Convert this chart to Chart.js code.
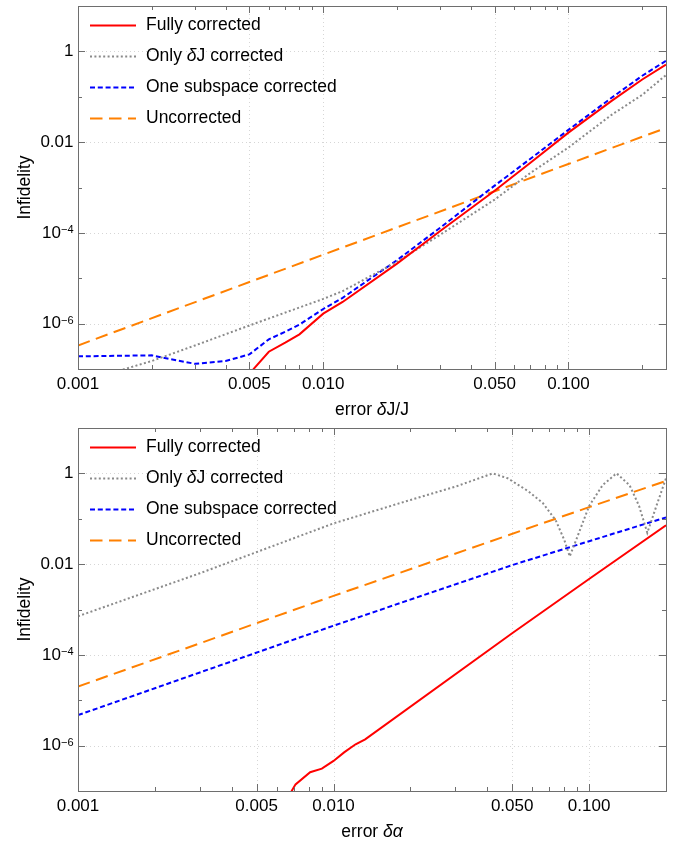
<!DOCTYPE html>
<html>
<head>
<meta charset="utf-8">
<script src="https://cdn.jsdelivr.net/npm/chart.js@4.4.1/dist/chart.umd.min.js"></script>
<style>
  html, body { margin: 0; padding: 0; background: #fff; }
  #wrap { position: relative; width: 684px; height: 846px; }
  canvas { position: absolute; left: 0; }
</style>
</head>
<body>
<div id="wrap">
  <canvas id="chart-j" width="684" height="422" style="top:0"></canvas>
  <canvas id="chart-a" width="684" height="424" style="top:422px"></canvas>
</div>
<script>
// Infidelidad vs error, dos paneles log-log (estilo Mathematica).

// --- panel superior: error δJ/J ---
const jFullX = [0.0048, 0.0052, 0.006, 0.007, 0.008, 0.01, 0.012, 0.02, 0.03, 0.05, 0.07, 0.1, 0.15, 0.2, 0.25];
const jFullY = [3e-8, 1e-7, 2.4e-7, 3.8e-7, 5.8e-7, 1.66e-6, 3.0e-6, 2.1e-5, 1.1e-4, 8.5e-4, 3.5e-3, 0.0162, 0.081, 0.24, 0.51];
const jOnlyX = [0.0013, 0.002, 0.003, 0.005, 0.01, 0.012, 0.02, 0.03, 0.05, 0.07, 0.1, 0.15, 0.2, 0.25];
const jOnlyY = [7.5e-8, 1.5e-7, 3.3e-7, 9.1e-7, 3.5e-6, 5.2e-6, 2.3e-5, 9.1e-5, 5.4e-4, 2.1e-3, 7.6e-3, 0.040, 0.11, 0.30];
const jSubX = [0.001, 0.002, 0.0022, 0.003, 0.004, 0.005, 0.006, 0.007, 0.008, 0.01, 0.012, 0.02, 0.03, 0.05, 0.07, 0.1, 0.15, 0.2, 0.25];
const jSubY = [1.9e-7, 2.0e-7, 1.8e-7, 1.3e-7, 1.5e-7, 2.1e-7, 4.5e-7, 6.6e-7, 9.5e-7, 2.1e-6, 3.7e-6, 2.5e-5, 1.3e-4, 1.1e-3, 4.3e-3, 0.0186, 0.095, 0.29, 0.62];
const jUncX = [0.001, 0.01, 0.1, 0.25];
const jUncY = [3.3e-7, 3.3e-5, 3.3e-3, 0.0205];

// --- panel inferior: error δα ---
const aFullX = [0.0066, 0.00686, 0.0071, 0.0081, 0.009, 0.01, 0.011, 0.0122, 0.0133, 0.05, 0.1, 0.2];
const aFullY = [5e-8, 1.0e-7, 1.4e-7, 2.6e-7, 3.1e-7, 4.6e-7, 7.1e-7, 1.07e-6, 1.38e-6, 3.0e-4, 4.7e-3, 0.072];
const aOnlyX = [0.001, 0.003, 0.01, 0.02, 0.03, 0.042, 0.048, 0.058, 0.066, 0.074, 0.08, 0.084, 0.089, 0.1, 0.113, 0.128, 0.144, 0.157, 0.169, 0.185, 0.2];
const aOnlyY = [7.1e-4, 6.3e-3, 0.079, 0.26, 0.51, 1.0, 0.78, 0.40, 0.22, 0.093, 0.034, 0.0148, 0.034, 0.19, 0.55, 1.0, 0.55, 0.19, 0.049, 0.22, 0.78];
const aSubX = [0.001, 0.003, 0.01, 0.05, 0.1, 0.2];
const aSubY = [4.7e-6, 4.1e-5, 4.4e-4, 9.5e-3, 0.032, 0.107];
const aUncX = [0.001, 0.01, 0.1, 0.2];
const aUncY = [2.0e-5, 2.0e-3, 0.18, 0.68];

// ejes
const xMajor = [0.001, 0.005, 0.01, 0.05, 0.1];
const xTickLabels = ["0.001", "0.005", "0.010", "0.050", "0.100"];
const xMinor = [0.002, 0.003, 0.004, 0.006, 0.007, 0.008, 0.009, 0.02, 0.03, 0.04, 0.06, 0.07, 0.08, 0.09, 0.2];
const yMajor = [1e-6, 1e-4, 0.01, 1];
const yTickLabels = [["10", "−6"], ["10", "−4"], ["0.01", ""], ["1", ""]];
const yMinor = [1e-7, 1e-5, 1e-3, 0.1, 10];

const FONT = '"Liberation Sans", Arial, Helvetica, sans-serif';
const FRAME = "#6e6e6e";
const GRID = "#d6d6d6";

const SERIES = {
  full:  { parts: [["Fully corrected", false]], color: "#ff0000", dash: [] },
  onlyJ: { parts: [["Only ", false], ["δ", true], ["J corrected", false]], color: "#8a8a8a", dash: [2, 2.4] },
  sub:   { parts: [["One subspace corrected", false]], color: "#0000ff", dash: [5, 2.8] },
  unc:   { parts: [["Uncorrected", false]], color: "#ff8000", dash: [12.5, 6.5] },
};

const pts = (xs, ys) => xs.map((x, i) => ({ x, y: ys[i] }));

function drawParts(ctx, parts, x, y, size) {
  for (const [t, it] of parts) {
    ctx.font = `${it ? "italic " : ""}${size}px ${FONT}`;
    ctx.fillText(t, x, y);
    x += ctx.measureText(t).width;
  }
}
function partsWidth(ctx, parts, size) {
  return parts.reduce((w, [t, it]) => {
    ctx.font = `${it ? "italic " : ""}${size}px ${FONT}`;
    return w + ctx.measureText(t).width;
  }, 0);
}

const framePlugin = {
  id: "frame",
  beforeDatasetsDraw(chart) {
    const { ctx, chartArea: a, scales: { x, y } } = chart;
    ctx.save();
    ctx.strokeStyle = GRID; ctx.lineWidth = 1; ctx.setLineDash([1, 3]);
    ctx.beginPath();
    xMajor.forEach((v) => { const p = Math.round(x.getPixelForValue(v)) + 0.5; ctx.moveTo(p, a.top); ctx.lineTo(p, a.bottom); });
    yMajor.forEach((v) => { const p = Math.round(y.getPixelForValue(v)) + 0.5; ctx.moveTo(a.left, p); ctx.lineTo(a.right, p); });
    ctx.stroke();
    ctx.restore();
  },
  afterDatasetsDraw(chart, args, o) {
    const { ctx, chartArea: a, scales: { x, y } } = chart;
    ctx.save();
    // marco y marcas hacia dentro en los cuatro lados
    ctx.strokeStyle = FRAME; ctx.lineWidth = 1;
    ctx.strokeRect(a.left + 0.5, a.top + 0.5, a.right - a.left, a.bottom - a.top);
    ctx.beginPath();
    for (const [vals, len] of [[xMajor, 7], [xMinor, 4]]) for (const v of vals) {
      if (v <= x.min || v >= x.max) continue;
      const p = Math.round(x.getPixelForValue(v)) + 0.5;
      ctx.moveTo(p, a.bottom); ctx.lineTo(p, a.bottom - len);
      ctx.moveTo(p, a.top); ctx.lineTo(p, a.top + len);
    }
    for (const [vals, len] of [[yMajor, 7], [yMinor, 4]]) for (const v of vals) {
      if (v <= y.min || v >= y.max) continue;
      const p = Math.round(y.getPixelForValue(v)) + 0.5;
      ctx.moveTo(a.left, p); ctx.lineTo(a.left + len, p);
      ctx.moveTo(a.right, p); ctx.lineTo(a.right - len, p);
    }
    ctx.stroke();

    // etiquetas de marcas
    ctx.fillStyle = "#000";
    ctx.font = `17px ${FONT}`; ctx.textAlign = "center"; ctx.textBaseline = "alphabetic";
    xMajor.forEach((v, i) => ctx.fillText(xTickLabels[i], x.getPixelForValue(v), a.bottom + 20));
    ctx.textAlign = "left";
    yMajor.forEach((v, i) => {
      const [base, exp] = yTickLabels[i];
      const py = y.getPixelForValue(v);
      ctx.font = `11px ${FONT}`;
      const we = exp ? ctx.measureText(exp).width : 0;
      ctx.font = `17px ${FONT}`;
      const wb = ctx.measureText(base).width;
      const x0 = a.left - 4.5 - we - wb;
      ctx.textBaseline = "middle";
      ctx.fillText(base, x0, py);
      if (exp) {
        ctx.font = `11px ${FONT}`; ctx.textBaseline = "alphabetic";
        ctx.fillText(exp, x0 + wb, py + 0.5);
      }
    });

    // títulos de ejes
    ctx.textBaseline = "alphabetic";
    const cx = (a.left + a.right) / 2;
    const tw = partsWidth(ctx, o.xTitle, 17.5);
    drawParts(ctx, o.xTitle, cx - tw / 2, a.bottom + 46, 17.5);
    ctx.save();
    ctx.translate(29.5, (a.top + a.bottom) / 2);
    ctx.rotate(-Math.PI / 2);
    ctx.font = `17.5px ${FONT}`; ctx.textAlign = "center";
    ctx.fillText("Infidelity", 0, 0);
    ctx.restore();

    // leyenda dentro del área
    ctx.textAlign = "left";
    chart.data.datasets.forEach((ds, i) => {
      const ly = a.top + 19.5 + 31 * i;
      ctx.strokeStyle = ds.borderColor; ctx.lineWidth = ds.borderWidth;
      ctx.setLineDash(ds.borderDash || []);
      ctx.beginPath(); ctx.moveTo(a.left + 12, ly); ctx.lineTo(a.left + 58, ly); ctx.stroke();
      ctx.fillStyle = "#000";
      drawParts(ctx, ds.parts, a.left + 68, ly + 4.5, 17.5);
    });
    ctx.restore();
  },
};

function makePanel(id, H, xMax, series, xTitle) {
  const datasets = series.map(([key, xs, ys]) => ({
    parts: SERIES[key].parts,
    data: pts(xs, ys),
    borderColor: SERIES[key].color,
    borderDash: SERIES[key].dash,
    borderWidth: 2,
    borderCapStyle: "butt",
    pointRadius: 0,
    tension: 0,
    fill: false,
  }));
  return new Chart(id, {
    type: "line",
    data: { datasets },
    options: {
      responsive: false,
      animation: false,
      devicePixelRatio: 1,
      layout: { padding: { top: 6, right: 18, left: 0, bottom: 0 } },
      plugins: { legend: { display: false }, tooltip: { enabled: false }, frame: { xTitle } },
      scales: {
        x: { type: "logarithmic", min: 0.001, max: xMax, grid: { display: false }, border: { display: false },
             ticks: { display: false }, afterFit: (s) => { s.height = H - 369; } },
        y: { type: "logarithmic", min: 1e-7, max: 10, grid: { display: false }, border: { display: false },
             ticks: { display: false }, afterFit: (s) => { s.width = 78; } },
      },
    },
    plugins: [framePlugin],
  });
}

makePanel("chart-j", 422, 0.25, [
  ["full", jFullX, jFullY], ["onlyJ", jOnlyX, jOnlyY], ["sub", jSubX, jSubY], ["unc", jUncX, jUncY],
], [["error ", false], ["δ", true], ["J/J", false]]);

makePanel("chart-a", 424, 0.2, [
  ["full", aFullX, aFullY], ["onlyJ", aOnlyX, aOnlyY], ["sub", aSubX, aSubY], ["unc", aUncX, aUncY],
], [["error ", false], ["δα", true]]);
</script>
</body>
</html>
